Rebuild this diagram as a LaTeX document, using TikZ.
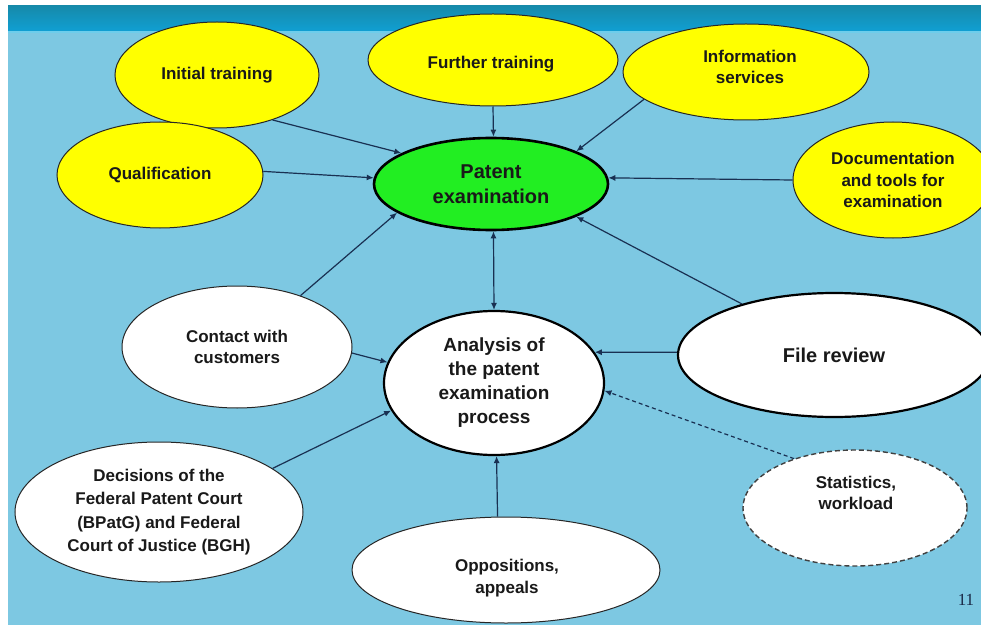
\documentclass[tikz,border=0pt]{standalone}
\usepackage{fontspec}
\setmainfont{Liberation Sans}
\newfontfamily\numfont{Liberation Serif}
\usetikzlibrary{shapes.geometric,arrows.meta}

\definecolor{bgblue}{RGB}{125,200,226}
\definecolor{barTop}{RGB}{22,138,170}
\definecolor{barBot}{RGB}{16,160,212}
\definecolor{barLine}{RGB}{110,205,235}
\definecolor{linkcol}{RGB}{25,48,82}
\definecolor{yell}{RGB}{255,255,0}
\definecolor{grn}{RGB}{34,238,34}
\definecolor{txt}{RGB}{25,25,25}
\definecolor{numcol}{RGB}{25,40,70}

\tikzset{
  bubble/.style={ellipse, draw=black!85, line width=1pt, inner sep=0pt,
    align=center, text=txt, font=\bfseries\fontsize{17}{21.5}\selectfont},
  yellowbubble/.style={bubble, fill=yell},
  whitebubble/.style={bubble, fill=white},
  caption/.style={align=center, inner sep=0pt, text=txt,
    font=\bfseries\fontsize{17}{21.5}\selectfont},
  link/.style={draw=linkcol, line width=1.2pt, ->},
}

\begin{document}
\begin{tikzpicture}[x=1pt,y=-1pt,>={Latex[length=7pt,width=6pt]}]
\useasboundingbox (0,0) rectangle (981,628);
\clip (0,0) rectangle (981,628);

% page and header bar
\fill[white] (0,0) rectangle (981,628);
\fill[bgblue] (8,32) rectangle (981,625);
\shade[top color=barTop, bottom color=barBot] (8,6) rectangle (981,32);
\draw[barLine, line width=1.2pt] (8,32) -- (981,32);

% resources feeding the examination
\node[yellowbubble, minimum width=204pt, minimum height=106pt] (init) at (217,75) {Initial training};
\node[yellowbubble, minimum width=250pt, minimum height=92pt] (further) at (493,60) {};
\node[caption] (furtherlbl) at (491,64) {Further training};
\node[yellowbubble, minimum width=246pt, minimum height=96pt] (info) at (746,72) {};
\node[caption] (infolbl) at (750,67) {Information\\services};
\node[yellowbubble, minimum width=206pt, minimum height=106pt] (qual) at (160,175) {Qualification};
\node[yellowbubble, minimum width=200pt, minimum height=116pt] (doc) at (893,180) {Documentation\\and tools for\\examination};

% central process
\node[bubble, fill=grn, line width=2.6pt, draw=black, minimum width=234pt, minimum height=92pt,
  font=\bfseries\fontsize{20}{25}\selectfont] (patent) at (491,184) {Patent\\examination};
\node[whitebubble, line width=2.2pt, draw=black, minimum width=220pt, minimum height=144pt,
  font=\bfseries\fontsize{19}{24}\selectfont] (analysis) at (494,383) {Analysis of\\the patent\\examination\\process};

% inputs to the analysis
\node[whitebubble, minimum width=230pt, minimum height=122pt] (contact) at (237,347) {Contact with\\customers};
\node[whitebubble, line width=2.2pt, draw=black, minimum width=312pt, minimum height=124pt,
  font=\bfseries\fontsize{20}{24}\selectfont] (file) at (834,355) {File review};
\node[whitebubble, minimum width=288pt, minimum height=140pt,
  font=\bfseries\fontsize{17}{23.5}\selectfont] (decis) at (159,512)
  {Decisions of the\\Federal Patent Court\\(BPatG) and Federal\\Court of Justice (BGH)};
\node[whitebubble, minimum width=308pt, minimum height=106pt] (oppos) at (506,570) {};
\node[caption] (opposlbl) at (507,578) {Oppositions,\\appeals};
\node[whitebubble, dash pattern=on 5pt off 3pt, line width=1.4pt, draw=black!75,
  minimum width=224pt, minimum height=116pt] (stat) at (855,508) {};
\node[caption] (statlbl) at (856,493) {Statistics,\\workload};

% page number
\node[font=\numfont\fontsize{17}{17}\selectfont, text=numcol, inner sep=0pt] (pagenum) at (966,600) {11};

% connectors into the examination
\draw[link] (init.-39) -- (patent.161);
\draw[link] (further.south) -- (patent.-273);
\draw[link] (info.195) -- (patent.21);
\draw[link] (qual.2) -- (patent.177);
\draw[link] (doc.180) -- (patent.3);
\draw[link] (contact.39) -- (patent.197);
\draw[link] (file.151) -- (patent.-21);
\draw[link, <->] (patent.-87) -- (analysis.90.5);

% connectors into the analysis
\draw[link] (contact.-3) -- (analysis.169);
\draw[link] (file.179) -- (analysis.17);
\draw[link] (decis.21) -- (analysis.195);
\draw[link] (oppos.99.6) -- (analysis.-88.4);
\draw[link, dash pattern=on 4pt off 3pt] (stat.141) -- (analysis.-4);
\end{tikzpicture}
\end{document}
